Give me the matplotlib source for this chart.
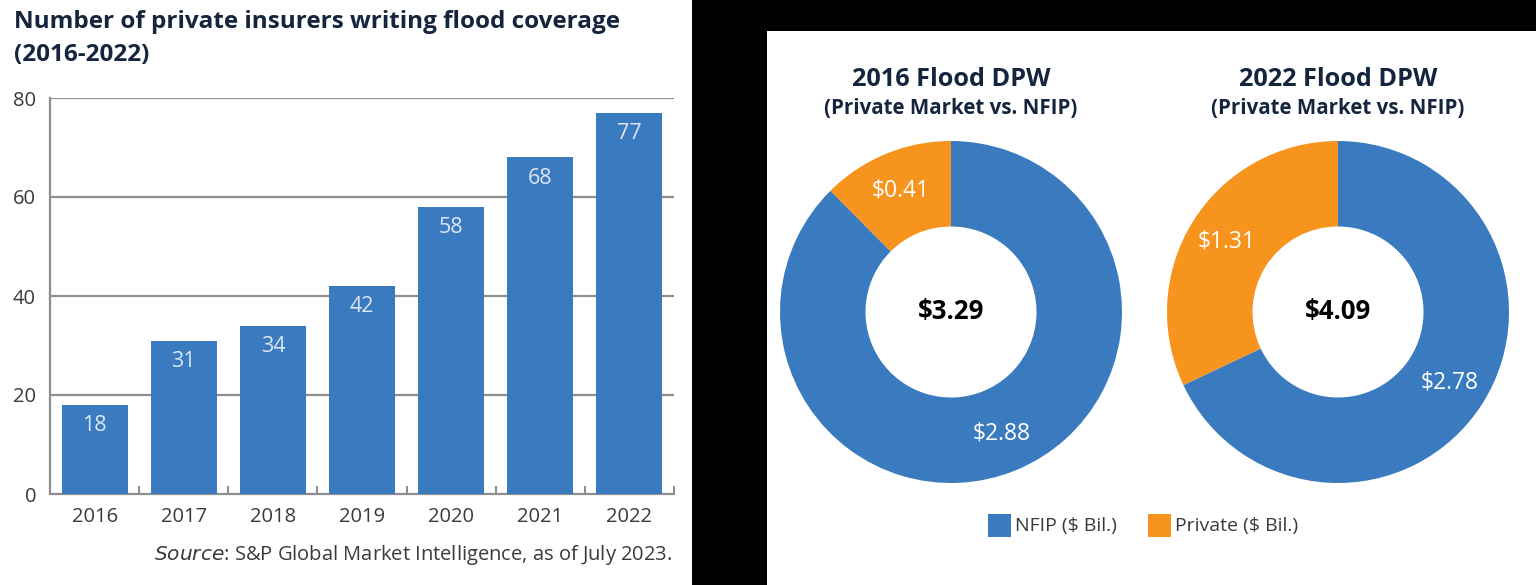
import matplotlib.pyplot as plt
from matplotlib.patches import Rectangle
import numpy as np

plt.rcParams['font.family'] = ['Open Sans', 'DejaVu Sans']

# data
years = ['2016', '2017', '2018', '2019', '2020', '2021', '2022']
insurers = [18, 31, 34, 42, 58, 68, 77]

donut_titles = ['2016 Flood DPW', '2022 Flood DPW']
nfip_dpw = [2.88, 2.78]
private_dpw = [0.41, 1.31]
total_dpw = [3.29, 4.09]
legend_labels = ['NFIP ($ Bil.)', 'Private ($ Bil.)']

blue = '#3A7BBF'
orange = '#F7941D'
navy = '#14253D'
grey_text = '#3A3A3A'
grid_grey = '#8E8E8E'

W, H = 1536, 585
fig = plt.figure(figsize=(W / 100, H / 100), dpi=100, facecolor='black')

# white panels on black background
fig.patches.append(Rectangle((0, 0), 692 / W, 1, transform=fig.transFigure,
                             facecolor='white', edgecolor='none', zorder=-5))
fig.patches.append(Rectangle((767 / W, 0), (W - 767) / W, (H - 31) / H,
                             transform=fig.transFigure, facecolor='white',
                             edgecolor='none', zorder=-5))

# ---- bar chart ----
ax = fig.add_axes([50 / W, 91 / H, 624 / W, 396 / H])
ax.set_facecolor('none')
x = np.arange(len(years))
bars = ax.bar(x, insurers, width=0.74, color=blue, zorder=3)
for b, v in zip(bars, insurers):
    ax.text(b.get_x() + b.get_width() / 2, v - 4.2, str(v), ha='center',
            va='center', color='#DCE7F4', fontsize=15.5, zorder=4)
ax.set_xlim(-0.5, len(years) - 0.5)
ax.set_ylim(0, 80)
ax.set_yticks([0, 20, 40, 60, 80])
for yv in [20, 40, 60, 80]:
    ax.axhline(yv, color=grid_grey, lw=1.6, zorder=1)
for s in ['top', 'right']:
    ax.spines[s].set_visible(False)
ax.spines['left'].set_color(grid_grey)
ax.spines['left'].set_linewidth(1.6)
ax.spines['bottom'].set_color(grid_grey)
ax.spines['bottom'].set_linewidth(1.6)
ax.set_xticks(x)
ax.set_xticklabels(years)
ax.tick_params(axis='x', length=0, pad=9, labelsize=14.5, labelcolor=grey_text)
ax.tick_params(axis='y', length=0, pad=10, labelsize=14.5, labelcolor=grey_text)
ax.set_xticks(np.arange(0.5, len(years)), minor=True)
ax.tick_params(axis='x', which='minor', direction='in', length=6,
               width=1.5, color=grid_grey)

fig.text(14 / W, 1 - 22 / H, 'Number of private insurers writing flood coverage',
         fontsize=17.5, fontweight='bold', color=navy, va='center', ha='left')
fig.text(14 / W, 1 - 55 / H, '(2016-2022)', fontsize=17.5, fontweight='bold',
         color=navy, va='center', ha='left')
fig.text(672 / W, 1 - 555 / H,
         r'$\it{Source}$: S&P Global Market Intelligence, as of July 2023.',
         fontsize=14.5, color=grey_text, ha='right', va='center')

# ---- donuts ----
centers = [951, 1338]
R = 171
for i, cx in enumerate(centers):
    cy = 312
    dax = fig.add_axes([(cx - R) / W, (H - cy - R) / H, 2 * R / W, 2 * R / H])
    vals = [nfip_dpw[i], private_dpw[i]]
    wedges, _ = dax.pie(vals, colors=[blue, orange], startangle=90,
                        counterclock=False, radius=1,
                        wedgeprops=dict(width=0.5, edgecolor='none'))
    dax.set_xlim(-1, 1)
    dax.set_ylim(-1, 1)
    dax.set_aspect('equal')
    dax.axis('off')
    for w, v in zip(wedges, vals):
        ang = np.deg2rad((w.theta1 + w.theta2) / 2)
        r = 0.77
        dax.text(r * np.cos(ang), r * np.sin(ang), f'${v:.2f}', ha='center',
                 va='center', color='white', fontsize=16.5)
    dax.text(0, 0, f'${total_dpw[i]:.2f}', ha='center', va='center',
             color='black', fontsize=18.5, fontweight='bold')
    fig.text(cx / W, 1 - 80 / H, donut_titles[i], ha='center', va='center',
             fontsize=18.2, fontweight='bold', color=navy)
    fig.text(cx / W, 1 - 108 / H, '(Private Market vs. NFIP)', ha='center',
             va='center', fontsize=14.8, fontweight='bold', color=navy)

# legend
for lx, col, lab in [(988, blue, legend_labels[0]), (1148, orange, legend_labels[1])]:
    fig.patches.append(Rectangle((lx / W, 1 - 537 / H), 23 / W, 23 / H,
                                 transform=fig.transFigure, facecolor=col,
                                 edgecolor='none', zorder=2))
    fig.text((lx + 27) / W, 1 - 526 / H, lab, ha='left', va='center',
             fontsize=14, color=grey_text)

fig.savefig('out.png', dpi=100, facecolor='black')
